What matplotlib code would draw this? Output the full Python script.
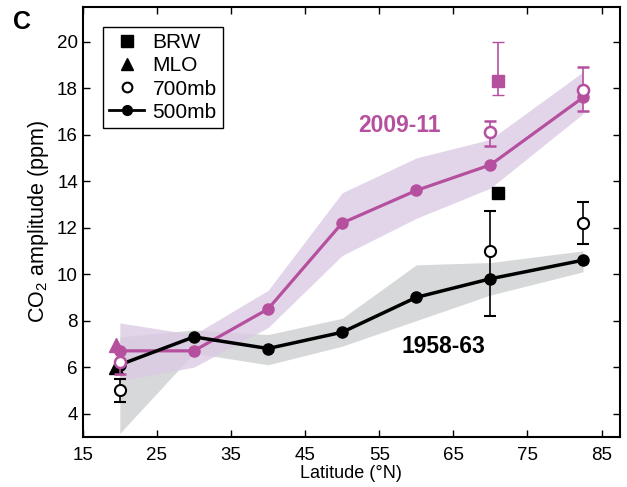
import numpy as np
import matplotlib.pyplot as plt
from matplotlib.lines import Line2D

plt.rcParams['font.family'] = ['Liberation Sans', 'DejaVu Sans']
plt.rcParams['mathtext.fontset'] = 'custom'
plt.rcParams['mathtext.rm'] = 'Liberation Sans'

MAG = '#b5509f'
BAND_MAG = '#dccbe4'
BAND_GRAY = '#d0d2d3'

# 500 mb, latitude bins
lat = [20, 30, 40, 50, 60, 70, 82.5]
amp_old = [6.1, 7.3, 6.8, 7.5, 9.0, 9.8, 10.6]
old_lo = [3.15, 6.6, 6.1, 6.9, 8.0, 9.1, 10.1]
old_hi = [7.3, 7.6, 7.4, 8.1, 10.4, 10.5, 11.0]
amp_new = [6.7, 6.7, 8.5, 12.2, 13.6, 14.7, 17.6]
new_lo = [5.4, 6.0, 7.7, 10.8, 12.4, 13.7, 16.9]
new_hi = [7.9, 7.4, 9.3, 13.5, 15.0, 15.8, 18.7]

# 700 mb
lat700 = [20, 70, 82.5]
old700 = [5.0, 11.0, 12.2]
old700_lo = [0.5, 2.8, 0.9]
old700_hi = [0.5, 1.7, 0.9]
new700 = [6.2, 16.1, 17.9]
new700_lo = [0.5, 0.6, 0.9]
new700_hi = [0.0, 0.5, 1.0]

# surface stations
brw_lat = 71
brw_old = 13.5
brw_new = 18.3
brw_new_err = [[0.6], [1.7]]
mlo_lat = 19.5
mlo_old = 6.0
mlo_new = 6.95

fig = plt.figure(figsize=(6.27, 4.87), dpi=100)
ax = fig.add_axes([0.132, 0.103, 0.857, 0.883])

ax.fill_between(lat, old_lo, old_hi, color=BAND_GRAY, alpha=0.85, lw=0, zorder=1)
ax.fill_between(lat, new_lo, new_hi, color=BAND_MAG, alpha=0.8, lw=0, zorder=1)

ax.plot(lat, amp_new, '-o', color=MAG, lw=2.3, ms=8, zorder=3)
ax.plot(lat, amp_old, '-o', color='k', lw=2.5, ms=8, zorder=4)

ax.errorbar(lat700, old700, yerr=[old700_lo, old700_hi], fmt='o', color='k',
            mfc='white', mec='k', mew=1.5, ms=8, capsize=4, elinewidth=1.2, zorder=5)
ax.errorbar(lat700, new700, yerr=[new700_lo, new700_hi], fmt='o', color=MAG,
            mfc='white', mec=MAG, mew=1.8, ms=8, capsize=4, elinewidth=1.2, zorder=6)

ax.plot(brw_lat, brw_old, 's', color='k', ms=8, zorder=5)
ax.errorbar(brw_lat, brw_new, yerr=brw_new_err, fmt='s', color=MAG, ms=8,
            capsize=4, elinewidth=1.2, zorder=5)
ax.plot(mlo_lat, mlo_old, '^', color='k', ms=10, zorder=4.5)
ax.plot(mlo_lat, mlo_new, '^', color=MAG, ms=10, zorder=4.5)

ax.text(57.8, 16.4, '2009-11', color=MAG, fontsize=16.5, fontweight='bold',
        ha='center', va='center')
ax.text(63.6, 6.9, '1958-63', color='k', fontsize=16.5, fontweight='bold',
        ha='center', va='center')

ax.set_xlim(15, 87.5)
ax.set_ylim(3, 21.5)
ax.set_xticks(np.arange(15, 86, 10))
ax.set_yticks(np.arange(4, 21, 2))
ax.tick_params(direction='in', top=True, right=True, labelsize=13.5, length=5, width=1)
ax.tick_params(axis='x', pad=7)
for s in ax.spines.values():
    s.set_linewidth(1.5)
ax.set_xlabel('Latitude (°N)', fontsize=13, labelpad=1)
ax.set_ylabel('CO$_2$ amplitude (ppm)', fontsize=15.5, labelpad=4)

handles = [
    Line2D([], [], ls='none', marker='s', color='k', ms=8),
    Line2D([], [], ls='none', marker='^', color='k', ms=9),
    Line2D([], [], ls='none', marker='o', mfc='white', mec='k', mew=1.5, ms=7),
    Line2D([], [], ls='-', marker='o', color='k', lw=2, ms=7),
]
leg = ax.legend(handles, ['BRW', 'MLO', '700mb', '500mb'], loc='upper left',
                bbox_to_anchor=(0.037, 0.953), borderaxespad=0, fontsize=15,
                handlelength=1.7, handletextpad=0.4, labelspacing=0.2,
                borderpad=0.3, fancybox=False, edgecolor='k', framealpha=1)
leg.get_frame().set_linewidth(1)

fig.text(0.02, 0.955, 'C', fontsize=18, fontweight='bold', ha='left', va='center')

fig.savefig('out.png', dpi=100)
